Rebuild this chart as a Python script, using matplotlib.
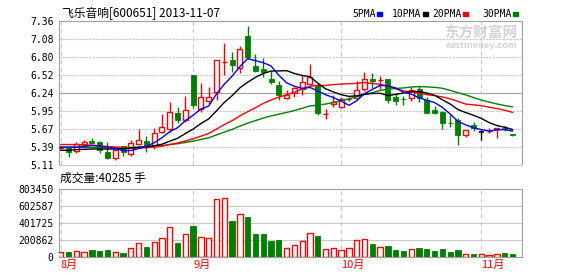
import matplotlib
matplotlib.use('Agg')
import matplotlib.pyplot as plt
from matplotlib.patches import Rectangle
import numpy as np

plt.rcParams['font.family'] = ['Noto Sans CJK SC', 'DejaVu Sans']

# daily k-line, 2013-08 .. 2013-11-07
opens = [5.38, 5.382, 5.335, 5.424, 5.481, 5.466, 5.309, 5.214, 5.403, 5.288,
         5.445, 5.492, 5.403, 5.633, 5.680, 5.916, 5.806, 6.512, 5.989, 6.104,
         6.251, 6.712, 6.753, 6.627, 7.130, 6.659, 6.612, 6.455, 6.355, 6.156,
         6.240, 6.293, 6.376, 6.366, 5.905, 6.062, 6.020, 6.136, 6.156, 6.293,
         6.450, 6.440, 6.449, 6.167, 6.140, 6.156, 6.293, 6.125, 5.968, 5.937,
         5.770, 5.811, 5.581, 5.728, 5.633, 5.639, 5.665, 5.685, 5.590]
highs = [5.40, 5.408, 5.466, 5.497, 5.528, 5.487, 5.476, 5.361, 5.413, 5.507,
         5.670, 5.570, 5.685, 5.905, 6.094, 6.020, 6.188, 6.520, 6.392, 6.324,
         6.753, 7.020, 6.879, 6.973, 7.287, 6.837, 6.784, 6.575, 6.429, 6.287,
         6.334, 6.512, 6.690, 6.387, 5.989, 6.198, 6.167, 6.177, 6.418, 6.565,
         6.544, 6.502, 6.455, 6.219, 6.188, 6.334, 6.345, 6.167, 6.031, 5.958,
         5.895, 5.842, 5.654, 5.779, 5.665, 5.685, 5.690, 5.717, 5.600]
lows = [5.37, 5.241, 5.298, 5.398, 5.434, 5.298, 5.204, 5.183, 5.246, 5.256,
        5.424, 5.319, 5.361, 5.607, 5.633, 5.764, 5.780, 5.999, 5.937, 6.062,
        6.125, 6.523, 6.565, 6.549, 6.763, 6.565, 6.481, 6.381, 6.125, 6.146,
        6.177, 6.198, 6.366, 5.895, 5.832, 6.010, 6.000, 6.104, 6.136, 6.261,
        6.313, 6.303, 6.073, 6.052, 6.052, 6.104, 6.094, 5.916, 5.905, 5.675,
        5.706, 5.424, 5.549, 5.644, 5.508, 5.612, 5.539, 5.644, 5.560]
closes = [5.39, 5.319, 5.440, 5.466, 5.455, 5.351, 5.225, 5.340, 5.309, 5.455,
          5.507, 5.403, 5.617, 5.696, 5.931, 5.811, 5.963, 6.041, 6.177, 6.167,
          6.753, 6.722, 6.669, 6.920, 6.805, 6.585, 6.565, 6.413, 6.198, 6.209,
          6.313, 6.408, 6.481, 5.926, 5.910, 6.094, 6.136, 6.146, 6.282, 6.460,
          6.430, 6.445, 6.125, 6.104, 6.136, 6.282, 6.156, 5.926, 5.926, 5.759,
          5.765, 5.581, 5.654, 5.685, 5.633, 5.644, 5.685, 5.665, 5.580]
volumes = [62700, 62700, 70500, 58800, 86200, 74500, 86200, 58800, 50900, 105800,
           164600, 121500, 176400, 223400, 352700, 168500, 270400, 368400, 235100, 223400,
           681900, 693700, 427200, 509500, 474200, 274300, 274300, 184200, 203800, 105800,
           141100, 192000, 286100, 250800, 98000, 109700, 86200, 109700, 203800, 215500,
           156800, 121500, 133200, 78400, 66600, 98000, 109700, 98000, 66600, 98000,
           54900, 78400, 35300, 39200, 35300, 23500, 35300, 50900, 40285]

# moving averages as shown on the chart
ma5 = [5.39, 5.39, 5.39, 5.40, 5.414, 5.406, 5.387, 5.367, 5.336, 5.336,
       5.367, 5.403, 5.458, 5.536, 5.631, 5.692, 5.804, 5.888, 5.985, 6.032,
       6.220, 6.372, 6.498, 6.646, 6.774, 6.740, 6.709, 6.658, 6.513, 6.394,
       6.340, 6.308, 6.322, 6.267, 6.208, 6.164, 6.109, 6.042, 6.114, 6.224,
       6.291, 6.353, 6.348, 6.313, 6.248, 6.218, 6.161, 6.121, 6.085, 6.010,
       5.906, 5.791, 5.737, 5.689, 5.664, 5.639, 5.660, 5.662, 5.641]
ma10 = [5.34, 5.34, 5.35, 5.355, 5.36, 5.36, 5.36, 5.36, 5.365, 5.375,
        5.385, 5.393, 5.411, 5.434, 5.482, 5.528, 5.601, 5.671, 5.758, 5.831,
        5.956, 6.088, 6.193, 6.315, 6.403, 6.480, 6.540, 6.578, 6.580, 6.584,
        6.540, 6.509, 6.490, 6.390, 6.301, 6.252, 6.209, 6.182, 6.191, 6.216,
        6.227, 6.231, 6.195, 6.213, 6.236, 6.255, 6.257, 6.235, 6.199, 6.129,
        6.062, 5.976, 5.929, 5.887, 5.837, 5.773, 5.726, 5.700, 5.665]
ma20 = [5.43, 5.43, 5.43, 5.425, 5.42, 5.41, 5.40, 5.39, 5.38, 5.375,
        5.375, 5.38, 5.39, 5.405, 5.43, 5.455, 5.485, 5.52, 5.56, 5.604,
        5.671, 5.741, 5.803, 5.876, 5.943, 6.005, 6.072, 6.125, 6.170, 6.208,
        6.248, 6.298, 6.341, 6.353, 6.352, 6.366, 6.375, 6.380, 6.385, 6.400,
        6.384, 6.370, 6.343, 6.302, 6.268, 6.253, 6.233, 6.208, 6.195, 6.172,
        6.145, 6.104, 6.062, 6.050, 6.036, 6.014, 5.991, 5.967, 5.932]
ma30 = [5.385, 5.385, 5.385, 5.385, 5.385, 5.385, 5.385, 5.385, 5.385, 5.385,
        5.39, 5.394, 5.401, 5.411, 5.429, 5.443, 5.462, 5.483, 5.509, 5.535,
        5.580, 5.624, 5.666, 5.717, 5.764, 5.804, 5.843, 5.877, 5.904, 5.931,
        5.961, 5.997, 6.032, 6.047, 6.062, 6.087, 6.117, 6.144, 6.177, 6.210,
        6.241, 6.276, 6.293, 6.306, 6.313, 6.329, 6.335, 6.331, 6.323, 6.309,
        6.277, 6.239, 6.205, 6.164, 6.124, 6.093, 6.064, 6.039, 6.018]

price_ticks = [7.36, 7.07875, 6.7975, 6.51625, 6.235, 5.95375, 5.6725, 5.39125, 5.11]
price_labels = ['7.36', '7.08', '6.80', '6.52', '6.24', '5.95', '5.67', '5.39', '5.11']
vol_ticks = [0, 200862, 401725, 602587, 803450]
vol_labels = ['0', '200862', '401725', '602587', '803450']
month_pos = [0, 17, 36, 54]
month_labels = ['8月', '9月', '10月', '11月']

RED = '#ff0000'
GREEN = '#008000'
GRID = '#c8c8c8'
FRAME = '#a0a0a0'
W, H = 578, 276

fig = plt.figure(figsize=(W / 100, H / 100), dpi=100)
ax = fig.add_axes([59 / W, 1 - 165 / H, 463 / W, 144 / H])
axv = fig.add_axes([59 / W, 1 - 257 / H, 463 / W, 68 / H])

x = np.arange(len(closes))
bw = 0.64

# candles
for i in x:
    o, h, l, c = opens[i], highs[i], lows[i], closes[i]
    if c > o:
        col = RED
    elif c < o:
        col = GREEN
    else:
        col = 'black'
    ax.vlines(i, l, h, color=col, lw=1.0, zorder=2)
    if col == 'black':
        ax.hlines(c, i - bw / 2, i + bw / 2, color=col, lw=1.2, zorder=3)
    elif col == RED:
        ax.bar(i, max(c - o, 0.005), bottom=o, width=bw, facecolor='white',
               edgecolor=RED, linewidth=1.0, zorder=3)
    else:
        ax.bar(i, max(o - c, 0.005), bottom=c, width=bw, facecolor=GREEN,
               edgecolor=GREEN, linewidth=0.6, zorder=3)

# moving averages
ax.plot(x, ma30, color=GREEN, lw=1.0, zorder=4)
ax.plot(x, ma20, color=RED, lw=1.0, zorder=4)
ax.plot(x, ma10, color='black', lw=1.0, zorder=4)
ax.plot(x, ma5, color='#0000ff', lw=1.0, zorder=4)

# volume bars
for i in x:
    if closes[i] >= opens[i]:
        axv.bar(i, volumes[i], width=0.68, facecolor='white', edgecolor=RED,
                linewidth=1.0, zorder=3)
    else:
        axv.bar(i, volumes[i], width=0.68, facecolor=GREEN, edgecolor=GREEN,
                linewidth=0.6, zorder=3)

xlim = (-0.22, 59.22)

# price axes
ax.set_xlim(xlim)
ax.set_ylim(5.11, 7.36)
for k, t in enumerate(price_ticks[1:-1]):
    if k == 3:
        ax.axhline(t, color=FRAME, lw=0.8, zorder=1)
    else:
        ax.axhline(t, color=GRID, lw=0.8, ls=(0, (2, 1)), zorder=1)
for m in month_pos:
    ax.axvline(m, color=GRID, lw=0.8, ls=(0, (4, 3)), zorder=1)
ax.set_yticks(price_ticks)
ax.set_yticklabels(price_labels, family='DejaVu Sans Mono', fontsize=7)
ax.set_xticks([])
ax.tick_params(axis='y', length=0, pad=4)
for s in ['left', 'top', 'right']:
    ax.spines[s].set_color(FRAME)
ax.spines['bottom'].set_color(GRID)

# volume axes
axv.set_xlim(xlim)
axv.set_ylim(0, 803450)
for t in vol_ticks[1:-1]:
    axv.axhline(t, color=GRID, lw=0.8, zorder=1)
for m in month_pos:
    axv.axvline(m, color=GRID, lw=0.8, ls=(0, (4, 3)), zorder=1)
axv.set_yticks(vol_ticks)
axv.set_yticklabels(vol_labels, family='DejaVu Sans Mono', fontsize=7)
axv.set_xticks(month_pos)
axv.set_xticklabels(month_labels, color=RED, fontsize=8, ha='left')
axv.tick_params(axis='y', length=0, pad=4)
axv.tick_params(axis='x', length=0, pad=2)
for s in axv.spines.values():
    s.set_color(FRAME)

# texts
fig.text(62 / W, 1 - 13 / H, '飞乐音响[600651] 2013-11-07', fontsize=8.5, va='center')
fig.text(60 / W, 1 - 178 / H, '成交量:40285 手', fontsize=8.5, va='center')

legend = [('5PMA', '#0000ff', 352), ('10PMA', 'black', 392), ('20PMA', RED, 432), ('30PMA', GREEN, 482)]
for name, col, px in legend:
    fig.text(px / W, 1 - 14 / H, name, family='DejaVu Sans Mono', fontsize=7, va='center')
    ex = px + 6 * len(name) + 1
    fig.patches.append(Rectangle((ex / W, 1 - 15.5 / H), 5 / W, 3 / H, color=col,
                                 transform=fig.transFigure, figure=fig))

# watermark
fig.text(481 / W, 1 - 33 / H, '东方财富网', fontsize=10.5, fontweight='bold', color='#d4d4d4',
         ha='center', va='center')
fig.text(481 / W, 1 - 46 / H, 'eastmoney.com', fontsize=6.5, fontweight='bold', color='#d4d4d4',
         ha='center', va='center')

fig.savefig('out.png', dpi=100)
